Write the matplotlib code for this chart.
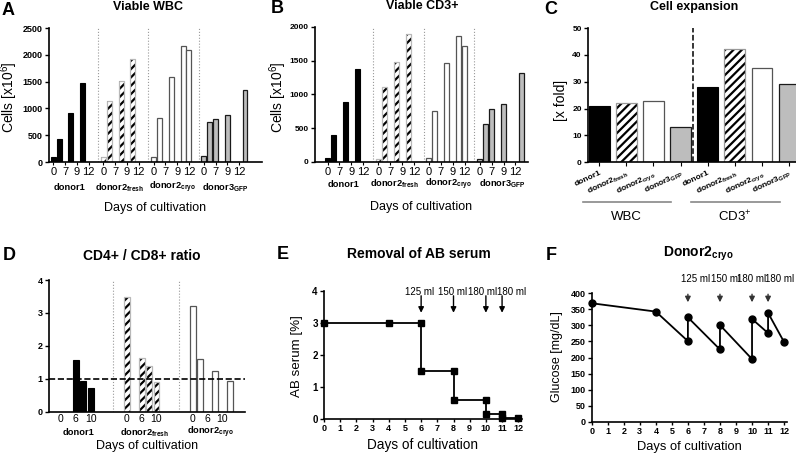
import numpy as np
import matplotlib
matplotlib.use('Agg')
import matplotlib.pyplot as plt
from matplotlib.transforms import blended_transform_factory

plt.rcParams['font.family'] = ['Liberation Sans', 'DejaVu Sans']
plt.rcParams['mathtext.default'] = 'regular'
plt.rcParams['hatch.linewidth'] = 1.6

W, H = 796, 465

# ---------------- data ----------------
groups = ['donor1', 'donor2$_{fresh}$', 'donor2$_{cryo}$', 'donor3$_{GFP}$']
days_ab = ['0', '7', '9', '12']
# bar slots inside each donor group (tick-slot units)
slots_ab = [[0, 0.5, 1.5, 2.5], [0, 0.5, 1.5, 2.5], [0, 0.5, 1.5, 2.5, 3], [0, 0.5, 1, 2, 3.5]]
wbc = [[85, 420, 920, 1470], [95, 1145, 1515, 1915],
       [100, 830, 1595, 2155, 2095], [105, 755, 810, 885, 1345]]
cd3 = [[55, 397, 883, 1380], [45, 1112, 1484, 1891],
       [55, 760, 1469, 1861, 1722], [45, 556, 784, 859, 1320]]

cell_types = ['WBC', 'CD3$^{+}$']
fold_wbc = [21, 22, 23, 13]
fold_cd3 = [28, 42, 35, 29]

days_d = ['0', '6', '10']
slots_d = [[1, 1.5, 2], [0, 1, 1.5, 2], [0, 0.5, 1.5, 2.5]]
ratio = [[1.56, 0.92, 0.73], [3.49, 1.62, 1.39, 0.91], [3.2, 1.6, 1.23, 0.92]]

serum_days = [0, 4, 6, 6, 8, 8, 10, 10, 11, 11, 12]
serum_pct = [3, 3, 3, 1.5, 1.5, 0.6, 0.6, 0.17, 0.17, 0.04, 0.04]

glucose_days = [0, 4, 6, 6, 8, 8, 10, 10, 11, 11, 12]
glucose = [369, 343, 251, 325, 225, 301, 195, 320, 276, 339, 248]

feed_days = [6, 8, 10, 11]
feed_labels = ['125 ml', '150 ml', '180 ml', '180 ml']

fig = plt.figure(figsize=(W / 100, H / 100), dpi=100)


def add_ax(left, top, right, bottom):
    return fig.add_axes([left / W, 1 - bottom / H, (right - left) / W, (bottom - top) / H])


def ftext(x, y, s, **kw):
    fig.text(x / W, 1 - y / H, s, ha='center', va='center', **kw)


def style(ax, yticks, ysize=6.5):
    for s in ['top', 'right']:
        ax.spines[s].set_visible(False)
    ax.spines['left'].set_linewidth(1.2)
    ax.spines['bottom'].set_linewidth(1.2)
    ax.tick_params(axis='y', length=3, width=1, pad=1.5)
    ax.set_yticks(yticks)
    ax.set_yticklabels([str(v) for v in yticks], fontsize=ysize, fontweight='bold')


def draw_bar(ax, x, h, w, g, light='#b8b8b8'):
    if g == 0:
        ax.bar(x, h, w, color='black', edgecolor='black', linewidth=0.8)
    elif g == 1:
        ax.bar(x, h, w, color='white', edgecolor='black', hatch='////', linewidth=0)
        ax.bar(x, h, w, fill=False, edgecolor=light, linewidth=0.9)
    elif g == 2:
        ax.bar(x, h, w, color='white', edgecolor='#555555', linewidth=0.9)
    else:
        ax.bar(x, h, w, color='#bdbdbd', edgecolor='#1a1a1a', linewidth=0.9)


G_AB = 4.25


def bar_panel(ax, values, xlim, ymax, ystep, grp_y, xl_y, yl_x, ysize=6.5):
    trans = blended_transform_factory(ax.transData, ax.transAxes)
    for g, (sl, vals) in enumerate(zip(slots_ab, values)):
        x = g * G_AB + np.array(sl)
        draw_bar(ax, x, vals, 0.42, g)
        if g > 0:
            ax.axvline(g * G_AB - 0.44, color='#999999', ls=':', lw=0.8)
        ax.text(g * G_AB + (min(sl) + max(sl)) / 2 + 0.1, grp_y, groups[g], transform=trans,
                ha='center', va='center', fontsize=6.7, fontweight='bold')
    ticks = [g * G_AB + i for g in range(4) for i in range(4)]
    ax.set_xticks(ticks)
    ax.set_xticklabels(days_ab * 4, fontsize=8)
    ax.tick_params(axis='x', length=2, width=0.8, pad=1.5)
    ax.set_xlim(xlim)
    ax.set_ylim(0, ymax)
    style(ax, list(range(0, ymax + 1, ystep)), ysize=ysize)
    ax.set_xlabel('Days of cultivation', fontsize=9, va='center')
    ax.xaxis.set_label_coords(0.5, xl_y)
    ax.set_ylabel('Cells [x10$^{6}$]', fontsize=10, va='center')
    ax.yaxis.set_label_coords(yl_x, 0.48)


# ---------------- A ----------------
axA = add_ax(49, 28, 262, 162)
bar_panel(axA, wbc, (-0.36, 17.69), 2500, 500, -0.192, -0.343, -0.185)
ftext(148, 7.5, 'Viable WBC', fontsize=9, fontweight='bold')
ftext(8, 10.5, 'A', fontsize=13, fontweight='bold')

# ---------------- B ----------------
axB = add_ax(315, 27, 528, 161.7)
bar_panel(axB, cd3, (-1.05, 16.8), 2000, 500, -0.167, -0.336, -0.172, ysize=6)
ftext(422, 6, 'Viable CD3+', fontsize=9, fontweight='bold')
ftext(277, 8.5, 'B', fontsize=13, fontweight='bold')

# ---------------- C ----------------
axC = add_ax(588, 28, 800, 162.3)
for i, v in enumerate(fold_wbc):
    draw_bar(axC, i, v, 0.77, i, light='#999999')
for i, v in enumerate(fold_cd3):
    draw_bar(axC, 4 + i, v, 0.77, i, light='#999999')
axC.axvline(3.45, color='black', ls='--', lw=1.1)
axC.set_xlim(-0.41, 7.4)
axC.set_ylim(0, 50)
style(axC, list(range(0, 51, 10)), ysize=6)
axC.set_xticks(range(8))
axC.set_xticklabels(groups * 2, fontsize=6, fontweight='bold', rotation=25,
                    ha='right', va='top', rotation_mode='anchor')
axC.tick_params(axis='x', length=3, width=0.8, pad=2)
axC.set_ylabel('[x fold]', fontsize=10, va='center')
axC.yaxis.set_label_coords(-0.126, 0.46)
transC = blended_transform_factory(axC.transData, axC.transAxes)
for k, lab in enumerate(cell_types):
    axC.plot([4 * k - 0.6, 4 * k + 2.65], [-0.295, -0.295], transform=transC,
             color='#888888', lw=1.2, clip_on=False)
    axC.text(4 * k + 1.0, -0.406, lab, transform=transC, ha='center', va='center', fontsize=9.5)
ftext(694, 7, 'Cell expansion', fontsize=9, fontweight='bold')
ftext(551, 10, 'C', fontsize=13, fontweight='bold')

# ---------------- D ----------------
axD = add_ax(49, 280, 245, 411.7)
G_D = 4.45
transD = blended_transform_factory(axD.transData, axD.transAxes)
for g, (sl, vals) in enumerate(zip(slots_d, ratio)):
    x = g * G_D + np.array(sl)
    draw_bar(axD, x, vals, 0.4, g)
    if g > 0:
        axD.axvline(g * G_D - 0.94, color='#999999', ls=':', lw=0.8)
    axD.text(g * G_D + 1.2, -0.16, groups[g], transform=transD,
             ha='center', va='center', fontsize=6.7, fontweight='bold')
axD.axhline(1, color='black', ls='--', lw=1.2, clip_on=False)
axD.set_xticks([g * G_D + i for g in range(3) for i in range(3)])
axD.set_xticklabels(days_d * 3, fontsize=7.5)
axD.tick_params(axis='x', length=0, pad=2)
axD.set_xlim(-0.81, 12.43)
axD.set_ylim(0, 4)
style(axD, [0, 1, 2, 3, 4])
axD.set_xlabel('Days of cultivation', fontsize=9, va='center')
axD.xaxis.set_label_coords(0.5, -0.258)
ftext(142, 256, 'CD4+ / CD8+ ratio', fontsize=10, fontweight='bold')
ftext(9, 255, 'D', fontsize=13, fontweight='bold')

# ---------------- E ----------------
axE = add_ax(324, 291, 521.5, 419)
axE.plot(serum_days, serum_pct, color='black', lw=1.3, marker='s', ms=5, clip_on=False, zorder=3)
for d, lab, lx in zip(feed_days, feed_labels, [5.9, 7.95, 9.8, 11.6]):
    axE.annotate('', xy=(d, 3.32), xytext=(d, 3.85),
                 arrowprops=dict(arrowstyle='-|>', color='black', lw=1, mutation_scale=8,
                                 shrinkA=0, shrinkB=0))
    axE.text(lx, 3.98, lab, ha='center', va='center', fontsize=7,
             family=['Liberation Sans Narrow', 'Liberation Sans'], clip_on=False)
axE.set_xlim(0, 12.2)
axE.set_ylim(0, 4)
style(axE, [0, 1, 2, 3, 4], ysize=7)
axE.set_xticks(range(13))
axE.set_xticklabels([str(v) for v in range(13)], fontsize=6.5, fontweight='bold')
axE.tick_params(axis='x', length=2.5, width=1, pad=1)
axE.set_xlabel('Days of cultivation', fontsize=9.8, va='center')
axE.xaxis.set_label_coords(0.5, -0.2)
axE.set_ylabel('AB serum [%]', fontsize=9.6, va='center')
axE.yaxis.set_label_coords(-0.137, 0.49)
ftext(419, 254, 'Removal of AB serum', fontsize=10, fontweight='bold')
ftext(283, 254, 'E', fontsize=13, fontweight='bold')

# ---------------- F ----------------
axF = add_ax(591.7, 293.3, 786.5, 421.7)
axF.plot(glucose_days, glucose, color='black', lw=1.3, marker='o', ms=5, clip_on=False, zorder=3)
for d, lab, lx in zip(feed_days, feed_labels, [6.5, 8.35, 10.0, 11.7]):
    axF.annotate('', xy=(d, 372), xytext=(d, 397),
                 arrowprops=dict(arrowstyle='-|>', color='#333333', lw=1, mutation_scale=8,
                                 shrinkA=0, shrinkB=0), annotation_clip=False)
    axF.text(lx, 444, lab, ha='center', va='center', fontsize=7,
             family=['Liberation Sans Narrow', 'Liberation Sans'], clip_on=False)
axF.set_xlim(0, 12.15)
axF.set_ylim(0, 400)
style(axF, list(range(0, 401, 50)), ysize=6.5)
axF.set_xticks(range(13))
axF.set_xticklabels([str(v) for v in range(13)], fontsize=6.5, fontweight='bold')
axF.tick_params(axis='x', length=2.5, width=1, pad=1)
axF.set_xlabel('Days of cultivation', fontsize=9.3, va='center')
axF.xaxis.set_label_coords(0.5, -0.2)
axF.set_ylabel('Glucose [mg/dL]', fontsize=9, va='center')
axF.yaxis.set_label_coords(-0.178, 0.51)
ftext(698, 254, 'Donor2$_{cryo}$', fontsize=10, fontweight='bold')
ftext(551, 255, 'F', fontsize=13, fontweight='bold')

fig.savefig('out.png', dpi=100)
